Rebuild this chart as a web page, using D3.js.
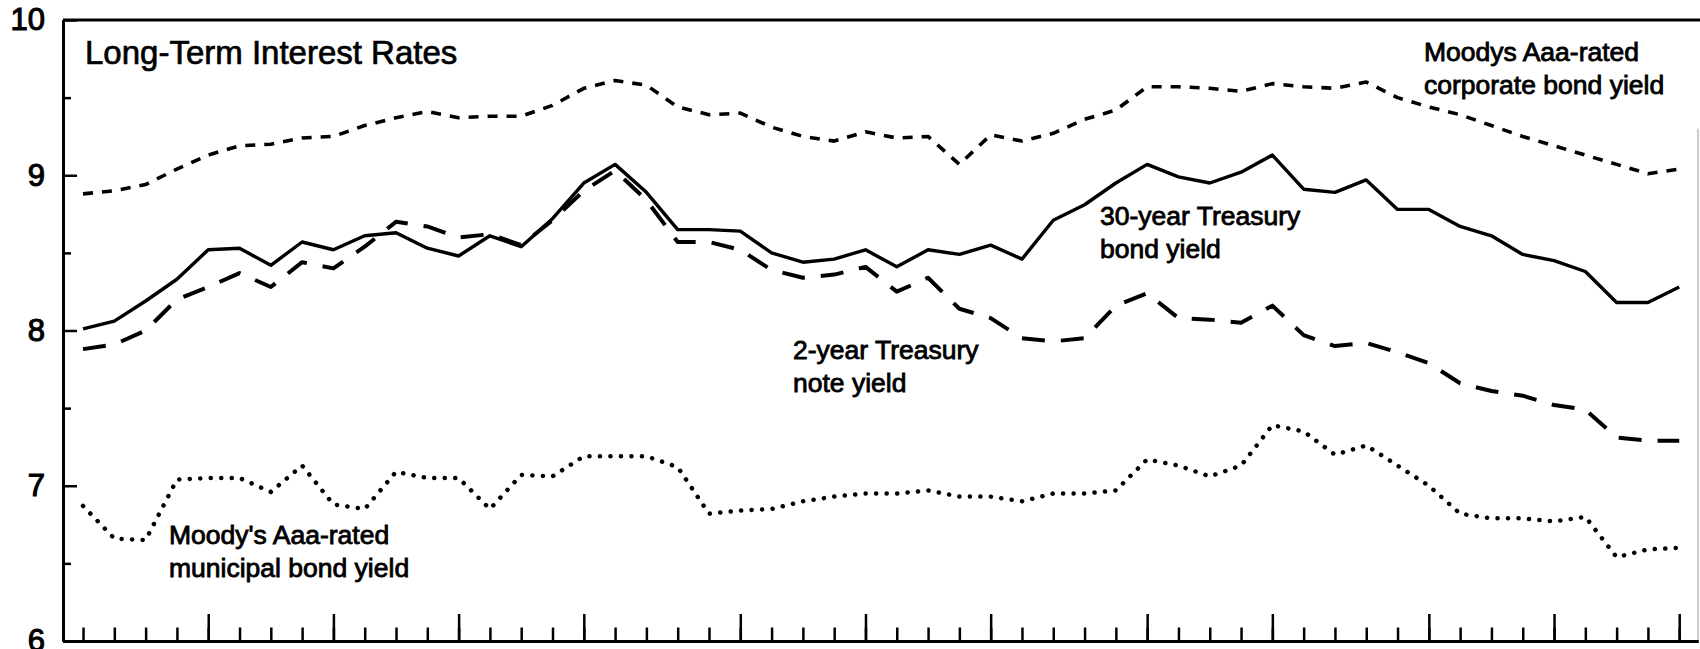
<!DOCTYPE html>
<html>
<head>
<meta charset="utf-8">
<script src="https://cdn.jsdelivr.net/npm/d3@7/dist/d3.min.js"></script>
<style>
  body { margin: 0; background: #fff; }
  svg { display: block; font-family: 'Liberation Sans', Arial, Helvetica, sans-serif; }
</style>
</head>
<body>
<svg id="chart" width="1700" height="649"></svg>
<script>
// weekly observations, one per tick on the bottom axis
var weeks = d3.range(52);
// weeks where a new month begins (the tall ticks)
var monthTicks = [4, 8, 12, 16, 21, 25, 29, 34, 38, 43, 47, 51];

var yMajor = [6, 7, 8, 9, 10];
var yMinor = [6.5, 7.5, 8.5, 9.5];

var corporate = [8.88, 8.90, 8.94, 9.04, 9.13, 9.19, 9.20, 9.24, 9.25, 9.32, 9.37, 9.41, 9.37,
  9.38, 9.38, 9.45, 9.56, 9.61, 9.58, 9.44, 9.39, 9.40, 9.31, 9.25, 9.22, 9.28, 9.24, 9.25,
  9.07, 9.26, 9.22, 9.27, 9.36, 9.42, 9.57, 9.57, 9.56, 9.54, 9.59, 9.57, 9.56, 9.60, 9.50,
  9.44, 9.39, 9.32, 9.25, 9.19, 9.13, 9.07, 9.01, 9.04];

var treasury30 = [8.01, 8.06, 8.19, 8.33, 8.52, 8.53, 8.42, 8.57, 8.52, 8.61, 8.63, 8.53, 8.48,
  8.61, 8.54, 8.72, 8.95, 9.07, 8.89, 8.65, 8.65, 8.64, 8.50, 8.44, 8.46, 8.52, 8.41, 8.52,
  8.49, 8.55, 8.46, 8.71, 8.81, 8.95, 9.07, 8.99, 8.95, 9.02, 9.13, 8.91, 8.89, 8.97, 8.78,
  8.78, 8.67, 8.61, 8.49, 8.45, 8.38, 8.18, 8.18, 8.28];

var treasury2 = [7.88, 7.91, 8.00, 8.20, 8.28, 8.37, 8.28, 8.44, 8.40, 8.54, 8.70, 8.67, 8.60,
  8.62, 8.55, 8.71, 8.90, 9.03, 8.84, 8.57, 8.57, 8.52, 8.39, 8.34, 8.36, 8.41, 8.25, 8.34,
  8.14, 8.08, 7.95, 7.93, 7.95, 8.16, 8.24, 8.08, 8.07, 8.05, 8.16, 7.97, 7.90, 7.92, 7.86,
  7.79, 7.66, 7.61, 7.58, 7.52, 7.49, 7.31, 7.29, 7.29];

var municipal = [6.87, 6.66, 6.65, 7.04, 7.05, 7.05, 6.96, 7.13, 6.88, 6.85, 7.09, 7.05, 7.05,
  6.85, 7.07, 7.06, 7.19, 7.19, 7.19, 7.12, 6.82, 6.84, 6.85, 6.90, 6.93, 6.95, 6.95, 6.97,
  6.93, 6.93, 6.90, 6.95, 6.95, 6.97, 7.17, 7.13, 7.06, 7.13, 7.39, 7.35, 7.20, 7.26, 7.13,
  7.00, 6.82, 6.79, 6.79, 6.77, 6.80, 6.54, 6.59, 6.60];

var title = 'Long-Term Interest Rates';
var labels = [
  { lines: ['Moodys Aaa-rated', 'corporate bond yield'], x: 1424, y: 61 },
  { lines: ['30-year Treasury', 'bond yield'], x: 1100, y: 225 },
  { lines: ['2-year Treasury', 'note yield'], x: 793, y: 359 },
  { lines: ["Moody's Aaa-rated", 'municipal bond yield'], x: 169, y: 544 }
];

var svg = d3.select('#chart');

var plotLeft = 63, plotRight = 1698, plotTop = 20, plotBottom = 641;

var xScale = d3.scaleLinear().domain([-0.64, 51.6]).range([plotLeft, plotRight]);
var yScale = d3.scaleLinear().domain([6, 10]).range([plotBottom, plotTop]);

// frame: top rule and faint right edge
svg.append('line')
  .attr('x1', plotLeft).attr('x2', 1700)
  .attr('y1', plotTop).attr('y2', plotTop)
  .attr('stroke', '#000').attr('stroke-width', 3);
svg.append('line')
  .attr('x1', plotRight).attr('x2', plotRight)
  .attr('y1', yScale(9.3)).attr('y2', plotBottom)
  .attr('stroke', '#aaa').attr('stroke-width', 1.2);

// bottom axis, ticks pointing up
var xMinor = d3.axisBottom(xScale).tickValues(weeks).tickSize(-13.5).tickSizeOuter(0).tickFormat('');
var xMajor = d3.axisBottom(xScale).tickValues(monthTicks).tickSize(-27).tickSizeOuter(0).tickFormat('');

svg.append('g').attr('transform', `translate(0, ${plotBottom})`).call(xMinor);
svg.append('g').attr('transform', `translate(0, ${plotBottom})`).call(xMajor);

// left axis, ticks pointing right, labels to the left
var yAxis = d3.axisLeft(yScale).tickValues(yMajor).tickSize(-14).tickSizeOuter(0).tickPadding(18).tickFormat(d3.format('d'));
var yAxisMinor = d3.axisLeft(yScale).tickValues(yMinor).tickSize(-8).tickSizeOuter(0).tickFormat('');

svg.append('g').attr('class', 'yaxis').attr('transform', `translate(${plotLeft}, 0)`).call(yAxis);
svg.append('g').attr('transform', `translate(${plotLeft}, 0)`).call(yAxisMinor);

svg.selectAll('.domain').attr('stroke', '#000').attr('stroke-width', 3);
svg.selectAll('.tick line').attr('stroke', '#000').attr('stroke-width', 2.5);
svg.selectAll('.yaxis text')
  .style('font-size', '31px')
  .style('font-family', "'Liberation Sans', Arial, sans-serif")
  .attr('fill', '#000')
  .attr('stroke', '#000')
  .attr('stroke-width', 1.1);

// series
var line = d3.line()
  .x((d, i) => xScale(weeks[i]))
  .y(d => yScale(d));

var series = [
  { values: corporate, dash: '10,9', width: 3.6, cap: 'butt' },
  { values: treasury30, dash: null, width: 3.4, cap: 'butt' },
  { values: treasury2, dash: '23,16', width: 4, cap: 'butt' },
  { values: municipal, dash: '0.1,10.4', width: 4.5, cap: 'round' }
];

svg.selectAll('.series')
  .data(series)
  .enter()
  .append('path')
  .attr('class', 'series')
  .attr('d', d => line(d.values))
  .attr('fill', 'none')
  .attr('stroke', '#000')
  .attr('stroke-width', d => d.width)
  .attr('stroke-dasharray', d => d.dash)
  .attr('stroke-linecap', d => d.cap)
  .attr('stroke-linejoin', 'round');

// title
svg.append('text')
  .attr('x', 85)
  .attr('y', 64)
  .style('font-size', '33px')
  .attr('fill', '#000')
  .attr('stroke', '#000')
  .attr('stroke-width', 0.7)
  .text(title);

// series labels
labels.forEach(function(lab) {
  var t = svg.append('text')
    .attr('x', lab.x)
    .attr('y', lab.y)
    .style('font-size', '26.5px')
    .attr('fill', '#000')
    .attr('stroke', '#000')
    .attr('stroke-width', 0.85);
  lab.lines.forEach(function(s, i) {
    t.append('tspan').attr('x', lab.x).attr('dy', i == 0 ? 0 : 33).text(s);
  });
});
</script>
</body>
</html>
